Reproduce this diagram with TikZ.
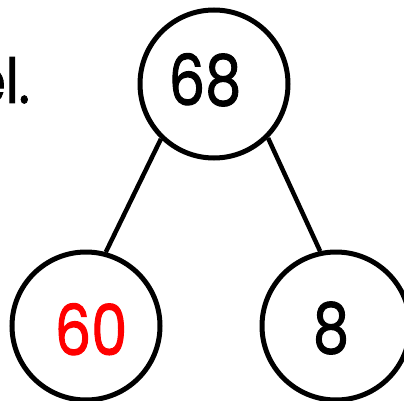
\documentclass[tikz,border=0pt]{standalone}
\usepackage{graphicx}
\usepackage{fontspec}
\setmainfont{Poppins}
\newfontfamily\numfont{Poppins}[FakeBold=1.6]
\begin{document}
\begin{tikzpicture}[x=1pt,y=-1pt,
  bubble/.style={circle,draw=black,line width=5pt,minimum size=148pt,inner sep=0pt},
  num/.style={font=\fontsize{70}{70}\numfont,inner sep=0pt,anchor=base},
  link/.style={line width=4.5pt}]
\useasboundingbox (0,0) rectangle (404,401);
\clip (0,0) rectangle (404,401);
\node[bubble] (top) at (214,84) {};
\node[bubble] (left) at (86,326) {};
\node[bubble] (right) at (336,326) {};
\node[num] (t68) at (205,105) {\scalebox{0.82}[1]{68}};
\node[num,text=red] (t60) at (91,355) {\scalebox{0.82}[1]{60}};
\node[num] (t8) at (331,353) {\scalebox{0.82}[1]{8}};
\node[font=\fontsize{62}{62}\numfont,inner sep=0pt,anchor=base east] (el) at (30,103) {\scalebox{0.85}[1]{el.}};
\draw[link] (top.226) -- (left.75);
\draw[link] (top.315) -- (right.102);
\end{tikzpicture}
\end{document}
